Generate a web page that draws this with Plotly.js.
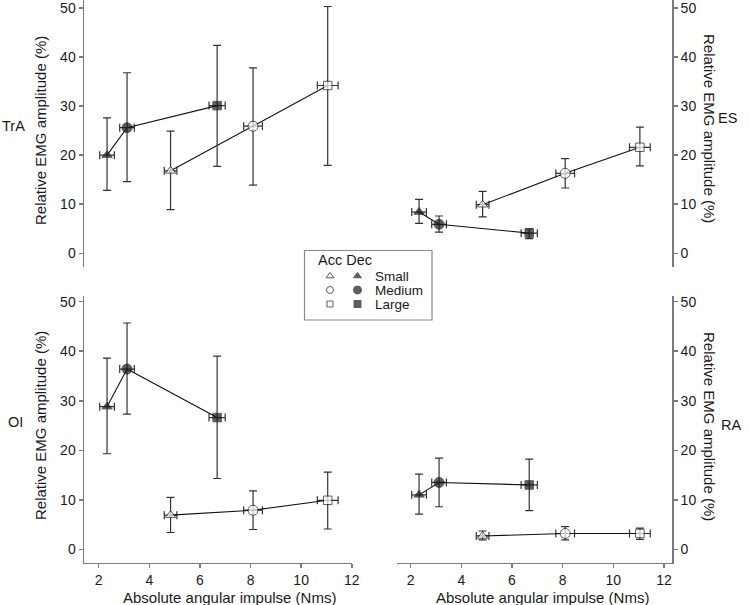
<!DOCTYPE html>
<html>
<head>
<meta charset="utf-8">
<script src="https://cdn.plot.ly/plotly-3.0.1.min.js"></script>
<style>html,body{margin:0;padding:0;background:#fff;}#chart{width:749px;height:605px;}</style>
</head>
<body>
<div id="chart"></div>
<script>
// ---- Data ----
const sizeLabels = ['Small', 'Medium', 'Large'];
const muscleLabels = ['TrA', 'ES', 'OI', 'RA'];
const xTickVals = [2, 4, 6, 8, 10, 12];
const yTickVals = [0, 10, 20, 30, 40, 50];

// Absolute angular impulse (Nms), shared by all muscles
const accX = [4.84, 8.10, 11.05];
const accXErr = [0.25, 0.37, 0.41];
const decX = [2.33, 3.12, 6.68];
const decXErr = [0.29, 0.29, 0.32];

// TrA
const trAAccY = [16.8, 25.9, 34.2];
const trAAccHi = [24.9, 37.8, 50.3];
const trAAccLo = [8.9, 13.9, 17.9];
const trADecY = [20.0, 25.6, 30.1];
const trADecHi = [27.6, 36.8, 42.4];
const trADecLo = [12.8, 14.6, 17.7];

// ES
const esAccY = [9.9, 16.3, 21.6];
const esAccHi = [12.6, 19.3, 25.7];
const esAccLo = [7.4, 13.3, 17.8];
const esDecY = [8.4, 5.9, 4.1];
const esDecHi = [11.0, 7.6, 5.0];
const esDecLo = [6.1, 4.3, 3.0];

// OI
const oiAccY = [6.9, 7.9, 9.9];
const oiAccHi = [10.5, 11.8, 15.6];
const oiAccLo = [3.4, 4.0, 4.1];
const oiDecY = [28.8, 36.4, 26.6];
const oiDecHi = [38.6, 45.7, 39.0];
const oiDecLo = [19.3, 27.3, 14.3];

// RA
const raAccY = [2.7, 3.2, 3.2];
const raAccHi = [3.7, 4.6, 4.3];
const raAccLo = [1.9, 1.9, 2.0];
const raDecY = [11.0, 13.5, 13.0];
const raDecHi = [15.2, 18.4, 18.2];
const raDecLo = [7.1, 8.6, 7.8];

// ---- Styles ----
const W = 749, H = 605;
const FONT = '"Liberation Sans", Arial, Helvetica, sans-serif';
const TXT = '#1a1a1a';
const AX = '#7a7a7a';
const ERR = '#333333';
const symbols = ['triangle-up', 'circle', 'square'];
const mSizes = [9, 10, 8.5];

function px(x) { return x / W; }
function py(y) { return 1 - y / H; }

function makeTrace(xa, ya, x, xerr, y, hi, lo, filled) {
  return {
    type: 'scatter', mode: 'lines+markers', xaxis: xa, yaxis: ya,
    x: x, y: y, showlegend: false, hoverinfo: 'skip',
    line: {color: '#111', width: 1.1},
    marker: {
      symbol: symbols, size: mSizes,
      color: filled ? '#1a1a1a' : '#ffffff',
      line: {color: '#1a1a1a', width: 1}
    },
    error_y: {
      type: 'data', symmetric: false,
      array: hi.map((h, i) => h - y[i]),
      arrayminus: lo.map((l, i) => y[i] - l),
      color: ERR, thickness: 1.2, width: 4
    },
    error_x: {
      type: 'data', symmetric: true, array: xerr,
      color: ERR, thickness: 1.2, width: 4
    },
    cliponaxis: false
  };
}

const traces = [
  makeTrace('x', 'y', accX, accXErr, trAAccY, trAAccHi, trAAccLo, false),
  makeTrace('x', 'y', decX, decXErr, trADecY, trADecHi, trADecLo, true),
  makeTrace('x2', 'y2', accX, accXErr, esAccY, esAccHi, esAccLo, false),
  makeTrace('x2', 'y2', decX, decXErr, esDecY, esDecHi, esDecLo, true),
  makeTrace('x3', 'y3', accX, accXErr, oiAccY, oiAccHi, oiAccLo, false),
  makeTrace('x3', 'y3', decX, decXErr, oiDecY, oiDecHi, oiDecLo, true),
  makeTrace('x4', 'y4', accX, accXErr, raAccY, raAccHi, raAccLo, false),
  makeTrace('x4', 'y4', decX, decXErr, raDecY, raDecHi, raDecLo, true)
];

// Legend key markers (in a hidden helper axis covering the legend box)
const legRows = [26, 40, 54];
traces.push({
  type: 'scatter', mode: 'markers', xaxis: 'x5', yaxis: 'y5',
  x: [26, 26, 26], y: legRows, showlegend: false, hoverinfo: 'skip',
  marker: {symbol: symbols, size: [7, 7, 6], color: '#fff', line: {color: '#1a1a1a', width: 1}}
});
traces.push({
  type: 'scatter', mode: 'markers', xaxis: 'x5', yaxis: 'y5',
  x: [53.5, 53.5, 53.5], y: legRows, showlegend: false, hoverinfo: 'skip',
  marker: {symbol: symbols, size: [7, 8, 7], color: '#1a1a1a', line: {color: '#1a1a1a', width: 1}}
});

const leftDom = [px(84), px(352)];
const rightDom = [px(396.7), px(672.3)];
const topDom = [py(266.5), 1];
const botDom = [py(562.7), py(296)];
const yRangeTop = [-2.7, 51.63];
const yRangeBot = [-2.7, 51.15];

function yAx(dom, range, anchor, side) {
  return {
    domain: dom, range: range, anchor: anchor, side: side,
    showline: true, linecolor: AX, linewidth: 1.5,
    ticks: 'outside', ticklen: 4, tickwidth: 1.5, tickcolor: AX,
    tickvals: yTickVals, showgrid: false, zeroline: false,
    ticklabeloverflow: 'allow',
    tickfont: {family: FONT, size: 14, color: TXT}, fixedrange: true
  };
}
function xAx(dom, range, anchor, visible) {
  return {
    domain: dom, range: range, anchor: anchor, visible: visible,
    showline: true, linecolor: AX, linewidth: 1.5,
    ticks: 'outside', ticklen: 4, tickwidth: 1.5, tickcolor: AX,
    tickvals: xTickVals, showgrid: false, zeroline: false,
    ticklabeloverflow: 'allow',
    tickfont: {family: FONT, size: 14, color: TXT}, fixedrange: true
  };
}

const yTitle = 'Relative EMG amplitude (%)';
const xTitle = 'Absolute angular impulse (Nms)';
function ann(text, x, y, angle, size, xanchor) {
  return {
    text: text, xref: 'paper', yref: 'paper', x: px(x), y: py(y),
    showarrow: false, textangle: angle || 0,
    xanchor: xanchor || 'center', yanchor: 'middle',
    font: {family: FONT, size: size, color: TXT}
  };
}

const annotations = [
  ann(yTitle, 40, 131, -90, 15),
  ann(yTitle, 40, 426, -90, 15),
  ann(yTitle, 710, 128, 90, 15),
  ann(yTitle, 710, 426, 90, 15),
  ann(xTitle, 229, 597, 0, 15),
  ann(xTitle, 542, 597, 0, 15),
  ann(muscleLabels[0], 14, 126, 0, 14.5),
  ann(muscleLabels[1], 727, 118, 0, 14.5),
  ann(muscleLabels[2], 15, 422, 0, 14.5),
  ann(muscleLabels[3], 731, 425, 0, 14.5),
  ann('Acc Dec', 316, 260, 0, 14.5, 'left'),
  ann(sizeLabels[0], 373, 276, 0, 13.5, 'left'),
  ann(sizeLabels[1], 373, 290, 0, 13.5, 'left'),
  ann(sizeLabels[2], 373, 304, 0, 13.5, 'left')
];

const layout = {
  width: W, height: H, autosize: false,
  margin: {l: 0, r: 0, t: 0, b: 0, pad: 0},
  paper_bgcolor: '#fff', plot_bgcolor: 'rgba(0,0,0,0)',
  showlegend: false,
  font: {family: FONT, size: 14, color: TXT},
  xaxis: xAx(leftDom, [1.419, 12.01], 'y', false),
  yaxis: yAx(topDom, yRangeTop, 'x', 'left'),
  xaxis2: xAx(rightDom, [1.447, 12.33], 'y2', false),
  yaxis2: yAx(topDom, yRangeTop, 'x2', 'right'),
  xaxis3: xAx(leftDom, [1.419, 12.01], 'y3', true),
  yaxis3: yAx(botDom, yRangeBot, 'x3', 'left'),
  xaxis4: xAx(rightDom, [1.447, 12.33], 'y4', true),
  yaxis4: yAx(botDom, yRangeBot, 'x4', 'right'),
  xaxis5: {domain: [px(304), px(432)], range: [0, 128], visible: false, anchor: 'y5', fixedrange: true},
  yaxis5: {domain: [py(320), py(250)], range: [70, 0], visible: false, anchor: 'x5', fixedrange: true},
  shapes: [{
    type: 'rect', xref: 'paper', yref: 'paper',
    x0: px(304.5), x1: px(432), y0: py(320), y1: py(250.5),
    line: {color: '#8a8a8a', width: 1.2}, fillcolor: 'rgba(0,0,0,0)'
  }],
  annotations: annotations
};

Plotly.newPlot('chart', traces, layout, {displayModeBar: false, staticPlot: true});
</script>
</body>
</html>
